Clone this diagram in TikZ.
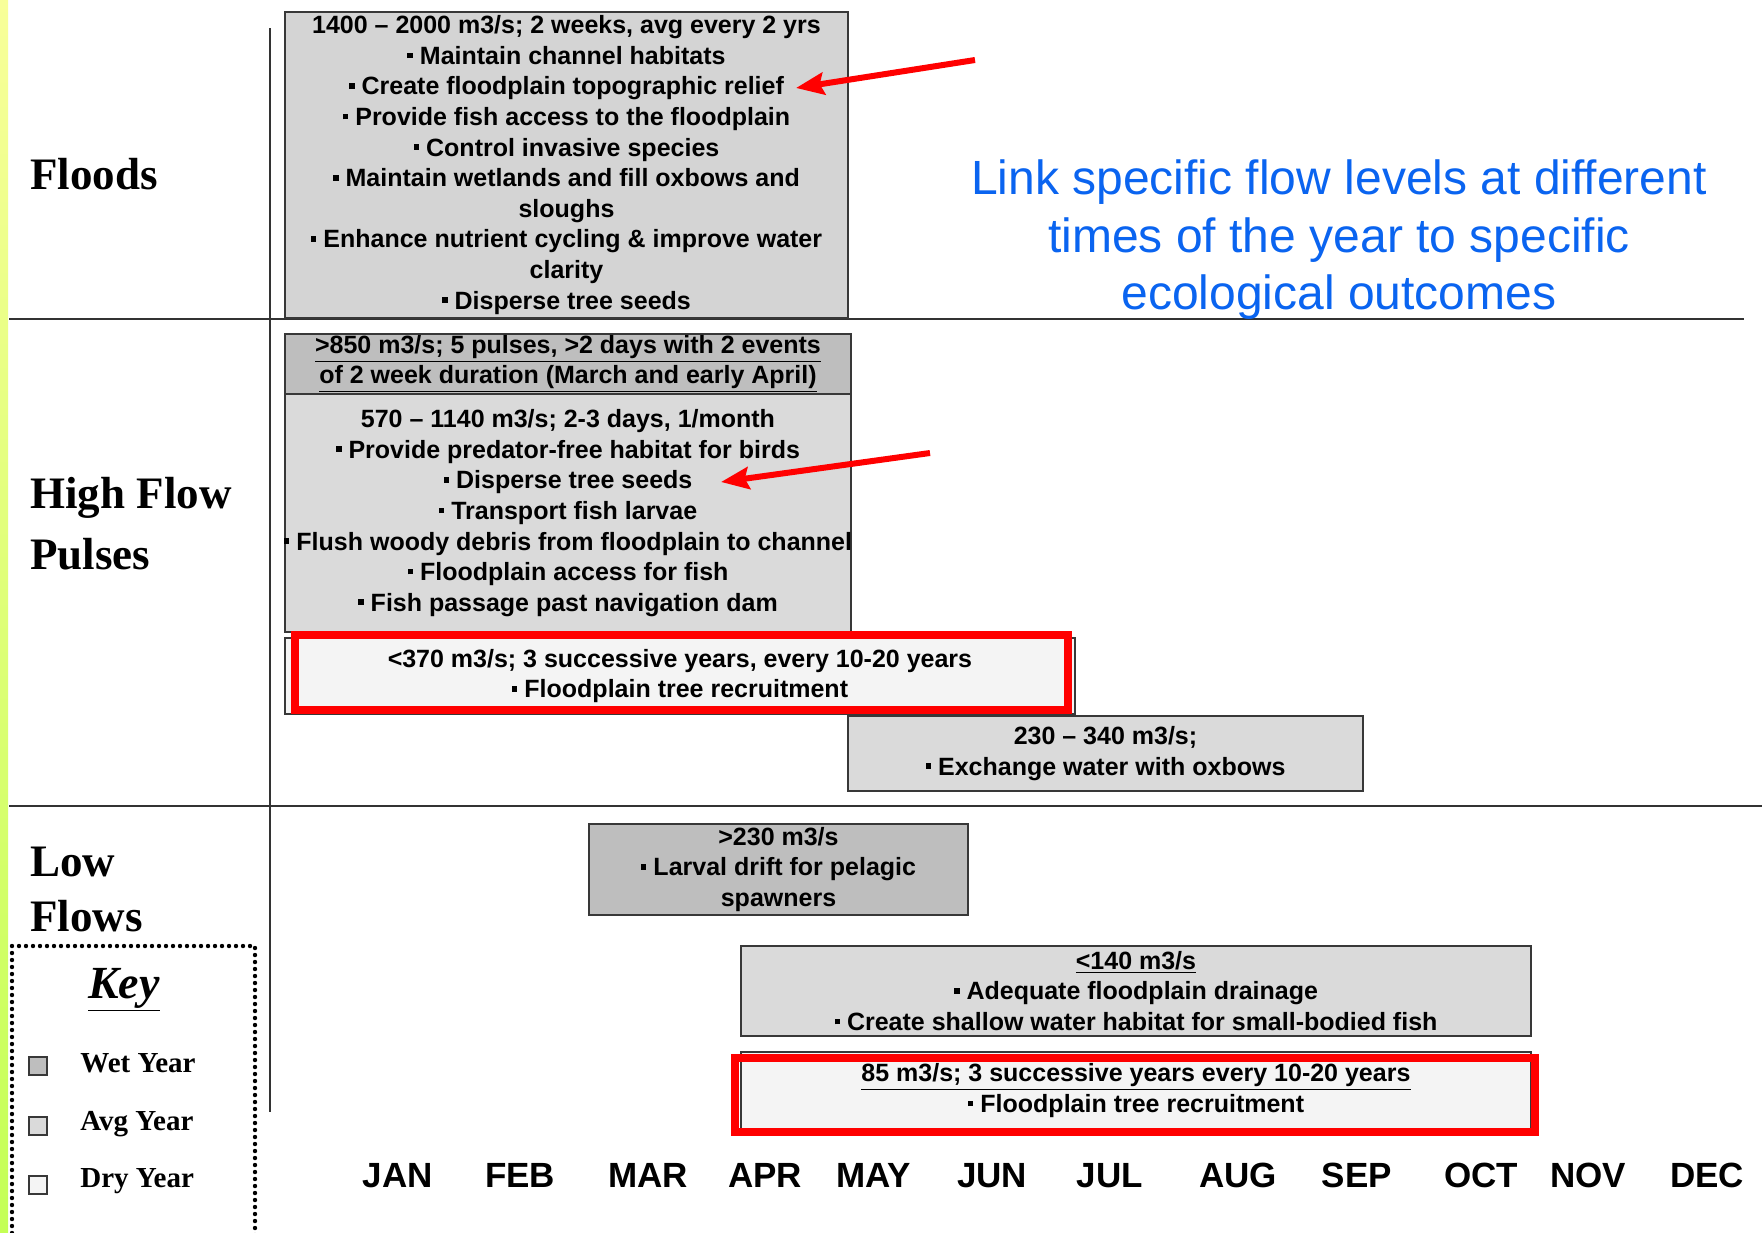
\documentclass[tikz,border=0pt]{standalone}
\usepackage{fontspec}
\setmainfont{Liberation Serif}
\newfontfamily\sansf{Liberation Sans}
\usetikzlibrary{arrows.meta}
\definecolor{wet}{HTML}{BEBEBE}
\definecolor{avg}{HTML}{DADADA}
\definecolor{dry}{HTML}{F4F4F4}
\definecolor{flood}{HTML}{D4D4D4}
\definecolor{edge}{HTML}{383838}
\definecolor{bluetxt}{HTML}{0A64F0}
\definecolor{stripTop}{HTML}{F8FF99}
\definecolor{stripBot}{HTML}{C4FF55}
\newcommand\bul{\rule[0.25em]{0.22em}{0.22em}\hspace{0.28em}}
\begin{document}
\begin{tikzpicture}[x=0.5pt,y=-0.5pt,
  gbox/.style={draw=edge, line width=1pt, inner sep=0pt, align=center,
    font=\sansf\bfseries\fontsize{12.5}{15.3}\selectfont},
  redframe/.style={draw=red, line width=4pt},
  redarrow/.style={draw=red, line width=3pt, -{Stealth[length=14pt,width=11pt,inset=2pt]}},
  divider/.style={draw=black!80, line width=1pt},
  rowlabel/.style={anchor=west, align=left, inner sep=0pt},
  month/.style={anchor=base, inner sep=0pt, font=\sansf\bfseries\fontsize{17.5}{20}\selectfont},
  keysq/.style={draw=edge, line width=0.6pt, minimum size=9pt, inner sep=0pt},
  keytxt/.style={anchor=base west, inner sep=0pt, font=\bfseries\fontsize{14.5}{16}\selectfont},
]
\useasboundingbox (0,0) rectangle (1762,1232);
\fill[white] (0,0) rectangle (1762,1232);
% left colour strip
\shade[top color=stripTop, bottom color=stripBot] (0,0) rectangle (8,1232);

% dividers
\draw[divider] (270,28) -- (270,1112);
\draw[divider] (9,319) -- (1744,319);
\draw[divider] (9,806) -- (1762,806);

% row labels
\node[rowlabel, font=\bfseries\fontsize{22.5}{30.5}\selectfont] (floodsLbl) at (30,174) {Floods};
\node[rowlabel, font=\bfseries\fontsize{22.5}{30.5}\selectfont] (highLbl) at (30,524) {High Flow\\Pulses};
\node[rowlabel, font=\bfseries\fontsize{22.5}{27.5}\selectfont] (lowLbl) at (30,889) {Low\\Flows};

% flood box
\node[gbox, fill=flood, minimum width=281.5pt, minimum height=153pt] (floods) at (566.5,165) {%
1400 – 2000 m3/s; 2 weeks, avg every 2 yrs\\
\bul Maintain channel habitats\\
\bul Create floodplain topographic relief\\
\bul Provide fish access to the floodplain\\
\bul Control invasive species\\
\bul Maintain wetlands and fill oxbows and\\
sloughs\\
\bul Enhance nutrient cycling \& improve water\\
clarity\\
\bul Disperse tree seeds};

% high flow boxes
\node[gbox, fill=wet, minimum width=283pt, minimum height=30pt] (hf850) at (568,364) {%
\underline{>850 m3/s; 5 pulses, >2 days with 2 events}\\
\underline{of 2 week duration (March and early April)}};
\node[gbox, fill=avg, minimum width=283pt, minimum height=119pt] (hf570) at (568,513) {%
570 – 1140 m3/s; 2-3 days, 1/month\\
\bul Provide predator-free habitat for birds\\
\bul Disperse tree seeds\\
\bul Transport fish larvae\\
\makebox[250pt]{\bul Flush woody debris from floodplain to channel}\\
\bul Floodplain access for fish\\
\bul Fish passage past navigation dam};
\node[gbox, fill=dry, minimum width=395pt, minimum height=38pt] (hf370) at (680,676) {%
<370 m3/s; 3 successive years, every 10-20 years\\
\bul Floodplain tree recruitment};
\node[gbox, fill=avg, minimum width=257.5pt, minimum height=37.5pt] (hf230) at (1105.5,753.5) {%
230 – 340 m3/s;\\
\bul Exchange water with oxbows};

% low flow boxes
\node[gbox, fill=wet, minimum width=189.5pt, minimum height=45.5pt] (lf230) at (778.5,869.5) {%
>230 m3/s\\
\bul Larval drift for pelagic\\
spawners};
\node[gbox, fill=avg, minimum width=395pt, minimum height=45pt] (lf140) at (1136,991) {%
\underline{<140 m3/s}\\
\bul Adequate floodplain drainage\\
\bul Create shallow water habitat for small-bodied fish};
\node[gbox, fill=dry, minimum width=395pt, minimum height=38.5pt] (lf85) at (1136,1090.5) {%
\underline{85 m3/s; 3 successive years every 10-20 years}\\
\bul Floodplain tree recruitment};

% red frames
\draw[redframe] (295,635) rectangle (1068,710);
\draw[redframe] (735,1058) rectangle (1535,1132);

% red arrows
\coordinate (arrAtail) at (975,60);
\coordinate (arrAtip) at (796,88);
\coordinate (arrBtail) at (930,453);
\coordinate (arrBtip) at (721,482);
\draw[redarrow] (arrAtail) -- (arrAtip);
\draw[redarrow] (arrBtail) -- (arrBtip);

% blue message
\node[align=center, inner sep=0pt, text=bluetxt, font=\sansf\fontsize{24}{28.75}\selectfont] (msg) at (1339,240) {%
Link specific flow levels at different\\
times of the year to specific\\
ecological outcomes};

% months
\node[month] (jan) at (398,1187) {JAN};
\node[month] (feb) at (520,1187) {FEB};
\node[month] (mar) at (648,1187) {MAR};
\node[month] (apr) at (765,1187) {APR};
\node[month] (may) at (874,1187) {MAY};
\node[month] (jun) at (992,1187) {JUN};
\node[month] (jul) at (1110,1187) {JUL};
\node[month] (aug) at (1238,1187) {AUG};
\node[month] (sep) at (1357,1187) {SEP};
\node[month] (oct) at (1481,1187) {OCT};
\node[month] (nov) at (1588,1187) {NOV};
\node[month] (dec) at (1707,1187) {DEC};

% key
\draw[line width=2.2pt, line cap=round, dash pattern=on 0pt off 3.5pt] (12,1240) -- (12,946) -- (255,946) -- (255,1240);
\node[anchor=base, inner sep=0pt, font=\bfseries\itshape\fontsize{23}{26}\selectfont] (keyTitle) at (124,998) {\underline{Key}};
\node[keysq, fill=wet] (sqWet) at (38,1066) {};
\node[keysq, fill=avg] (sqAvg) at (38,1126) {};
\node[keysq, fill=dry] (sqDry) at (38,1185) {};
\node[keytxt] (tWet) at (80,1072) {Wet Year};
\node[keytxt] (tAvg) at (80,1130) {Avg Year};
\node[keytxt] (tDry) at (80,1187) {Dry Year};
\end{tikzpicture}
\end{document}
